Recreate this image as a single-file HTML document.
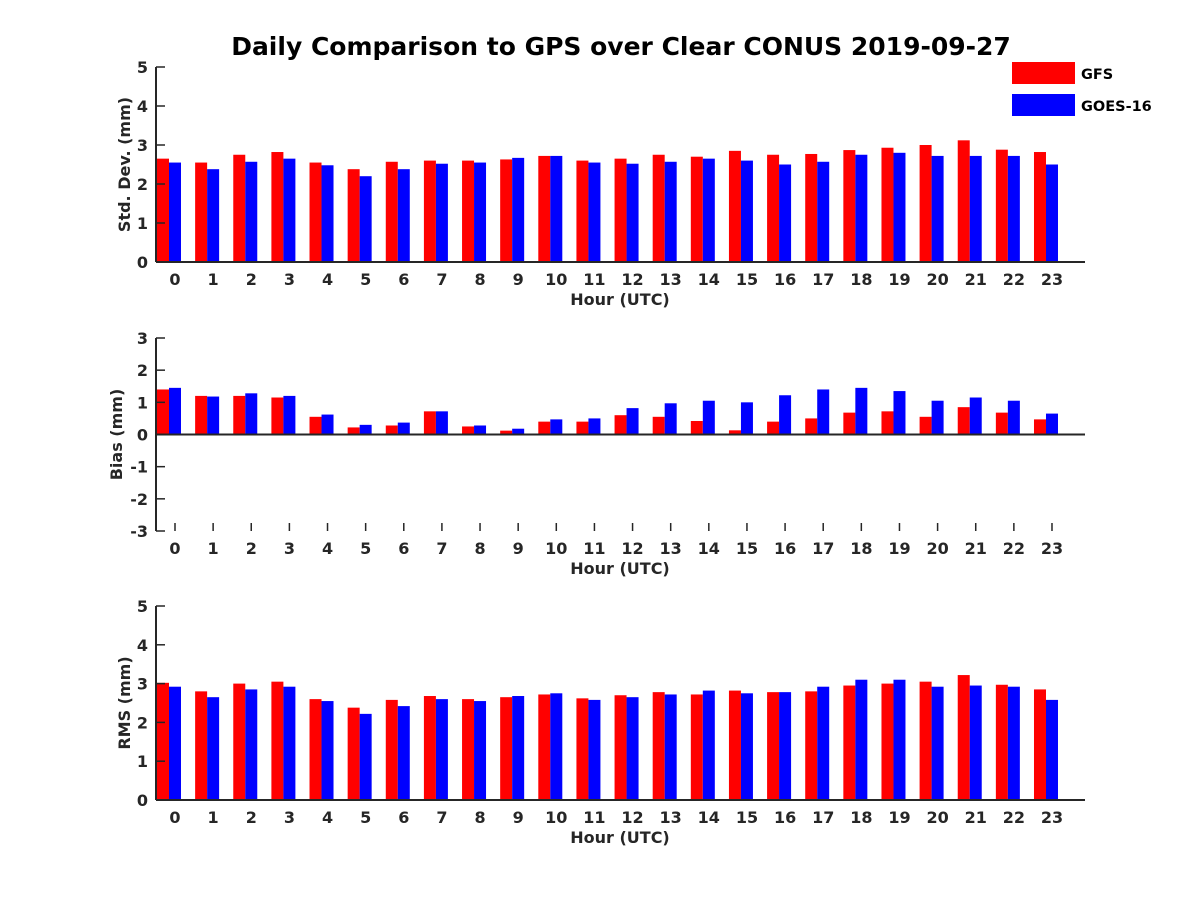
<!DOCTYPE html>
<html><head><meta charset="utf-8"><style>
body{margin:0;background:#fff}
svg text{font-family:"DejaVu Sans","Liberation Sans",sans-serif;font-weight:bold;fill:#262626}
</style></head><body>
<svg id="c" width="1200" height="900" xmlns="http://www.w3.org/2000/svg">
<text x="621" y="55" font-size="25" text-anchor="middle" style="fill:#000">Daily Comparison to GPS over Clear CONUS 2019-09-27</text>
<g>
<rect x="1012" y="62" width="63" height="22" fill="#f00"/>
<text x="1081" y="79" font-size="14.5" style="fill:#000">GFS</text>
<rect x="1012" y="94" width="63" height="22" fill="#00f"/>
<text x="1081" y="111" font-size="14.5" style="fill:#000">GOES-16</text>
</g>
</svg>
<script>
const hours=[0,1,2,3,4,5,6,7,8,9,10,11,12,13,14,15,16,17,18,19,20,21,22,23];
const stdGFS=[2.65,2.55,2.75,2.82,2.55,2.38,2.57,2.6,2.6,2.63,2.72,2.6,2.65,2.75,2.7,2.85,2.75,2.77,2.87,2.93,3.0,3.12,2.88,2.82];
const stdGOES=[2.55,2.38,2.57,2.65,2.48,2.2,2.38,2.52,2.55,2.67,2.72,2.55,2.52,2.57,2.65,2.6,2.5,2.57,2.75,2.8,2.72,2.72,2.72,2.5];
const biasGFS=[1.4,1.2,1.2,1.15,0.55,0.22,0.28,0.72,0.25,0.12,0.4,0.4,0.6,0.55,0.42,0.13,0.4,0.5,0.68,0.72,0.55,0.85,0.68,0.47];
const biasGOES=[1.45,1.18,1.28,1.2,0.62,0.3,0.37,0.72,0.28,0.18,0.47,0.5,0.82,0.97,1.05,1.0,1.22,1.4,1.45,1.35,1.05,1.15,1.05,0.65];
const rmsGFS=[3.02,2.8,3.0,3.05,2.6,2.38,2.58,2.68,2.6,2.65,2.72,2.62,2.7,2.78,2.72,2.82,2.78,2.8,2.95,3.0,3.05,3.22,2.97,2.85];
const rmsGOES=[2.92,2.65,2.85,2.92,2.55,2.22,2.42,2.6,2.55,2.68,2.75,2.58,2.65,2.72,2.82,2.75,2.78,2.92,3.1,3.1,2.92,2.95,2.92,2.58];
const stdTicks=[0,1,2,3,4,5];
const biasTicks=[-3,-2,-1,0,1,2,3];
const rmsTicks=[0,1,2,3,4,5];
const svg=document.getElementById('c');
const NS='http://www.w3.org/2000/svg';
function mk(t,a){const e=document.createElementNS(NS,t);for(const k in a)e.setAttribute(k,a[k]);svg.appendChild(e);return e;}
const xL=156,xR=1085;
function xs(h){return 175+h*38.13;}
function panel(name,yTop,yBot,ymin,ymax,ticks,g,b,ylabel,labX){
  const ys=v=>yBot-(v-ymin)/(ymax-ymin)*(yBot-yTop);
  const base=ys(Math.max(ymin,0));
  hours.forEach((h,i)=>{
    const cx=xs(h)-6;
    let y1=ys(g[i]);
    let r=mk('rect',{x:cx-12,y:Math.min(y1,base),width:12,height:Math.abs(base-y1),fill:'#f00'});
    
    
    let y2=ys(b[i]);
    r=mk('rect',{x:cx,y:Math.min(y2,base),width:12,height:Math.abs(base-y2),fill:'#00f'});
    
    
  });
  let l=mk('line',{x1:xL,y1:yTop,x2:xL,y2:yBot,stroke:'#262626','stroke-width':2});
  
  
  l=mk('line',{x1:xL,y1:base,x2:xR,y2:base,stroke:'#262626','stroke-width':2});
  
  
  if(base!==yBot){
    hours.forEach(h=>{const t=mk('line',{x1:xs(h),y1:yBot,x2:xs(h),y2:yBot-8,stroke:'#262626','stroke-width':1.5});
      
      });
  }
  ticks.forEach(v=>{
    const y=ys(v);
    const t=mk('line',{x1:xL,y1:y,x2:xL+9,y2:y,stroke:'#262626','stroke-width':1.5});
    
    
    const tx=mk('text',{x:xL-8,y:y+6,'font-size':16,'text-anchor':'end'});
    tx.textContent=v;
    
    
  });
  hours.forEach(h=>{
    const tx=mk('text',{x:xs(h),y:yBot+23,'font-size':16,'text-anchor':'middle'});
    tx.textContent=h;
    
    
  });
  let t=mk('text',{x:620,y:yBot+43,'font-size':16,'text-anchor':'middle'});
  t.textContent='Hour (UTC)';
  
  
  const cy=(yTop+yBot)/2;
  t=mk('text',{x:labX,y:cy,'font-size':16,'text-anchor':'middle',transform:'rotate(-90 '+labX+' '+cy+')'});
  t.textContent=ylabel;
  
  
}
panel('std',67,262,0,5,stdTicks,stdGFS,stdGOES,'Std. Dev. (mm)',130);
panel('bias',338,531,-3,3,biasTicks,biasGFS,biasGOES,'Bias (mm)',122);
panel('rms',606,800,0,5,rmsTicks,rmsGFS,rmsGOES,'RMS (mm)',130);
</script>
</body></html>
